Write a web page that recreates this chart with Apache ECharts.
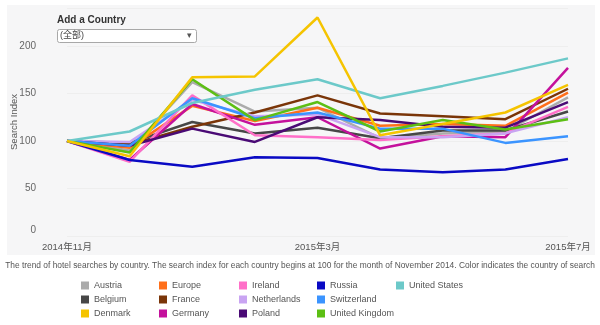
<!DOCTYPE html>
<html><head><meta charset="utf-8">
<script src="https://cdn.jsdelivr.net/npm/echarts@6/dist/echarts.min.js"></script>
<style>html,body{margin:0;padding:0;background:#fff}#c{width:600px;height:325px}</style>
</head><body><div id="c"></div>
<script>
var months = ['2014年11月','2014年12月','2015年1月','2015年2月','2015年3月','2015年4月','2015年5月','2015年6月','2015年7月'];
var yTicks = [0, 50, 100, 150, 200];
var countries = ['Austria','Belgium','Denmark','Europe','France','Germany','Ireland','Netherlands','Poland','Russia','Switzerland','United Kingdom','United States'];
var colors = ['#ababab','#474747','#f5c400','#ff6f1a','#7a3508','#c4119c','#ff6fc8','#c9a4f2','#4a0a75','#0a0ac4','#3b94ff','#5cbf14','#6cc9c9'];
var austria      = [100, 90, 162, 131, 135, 103, 108, 110, 146];
var belgium      = [100, 98, 120, 108, 114, 103, 111, 111, 131];
var denmark      = [100, 84, 167, 168, 230, 106, 118, 130, 159];
var europe       = [100, 93, 137, 121, 135, 116, 118, 116, 151];
var france       = [100, 96, 115, 130, 148, 129, 126, 123, 155];
var germany      = [100, 80, 139, 117, 125, 92, 105, 104, 177];
var ireland      = [100, 78, 148, 106, 104, 101, 105, 108, 136];
var netherlands  = [100, 99, 143, 126, 128, 104, 104, 108, 125];
var poland       = [100, 95, 113, 99, 125, 122, 115, 114, 141];
var russia       = [100, 80, 73, 83, 82, 70, 67, 70, 81];
var switzerland  = [100, 95, 145, 124, 130, 113, 113, 98, 105];
var unitedKingdom= [100, 88, 165, 122, 141, 110, 122, 112, 123];
var unitedStates = [100, 110, 140, 154, 165, 145, 158, 172, 187];
var seriesValues = [austria, belgium, denmark, europe, france, germany, ireland, netherlands, poland, russia, switzerland, unitedKingdom, unitedStates];
var caption = 'The trend of hotel searches by country. The search index for each country begins at 100 for the month of November 2014. Color indicates the country of search';

var font = '"Liberation Sans", Arial, "Noto Sans CJK SC", sans-serif';
var chart = echarts.init(document.getElementById('c'));
var series = countries.map(function (name, i) {
  return {
    name: name, type: 'line', data: seriesValues[i], symbol: 'none',
    lineStyle: { width: 2.5, color: colors[i] }, itemStyle: { color: colors[i] },
    z: name === 'Denmark' ? 5 : 3, clip: false, silent: true
  };
});
var legendCols = [[0,1,2],[3,4,5],[6,7,8],[9,10,11],[12]];
var legendX = [81, 159, 239, 317, 396];
var legends = legendCols.map(function (col, k) {
  return {
    orient: 'vertical', left: legendX[k], top: 280, height: 45, padding: 0,
    itemWidth: 8, itemHeight: 8, itemGap: 3,
    icon: 'rect', selectedMode: false,
    textStyle: { fontFamily: font, fontSize: 9, color: '#555', lineHeight: 11 },
    data: col.map(function (i) { return countries[i]; })
  };
});
chart.setOption({
  animation: false,
  grid: { left: 67, right: 32, top: 8, bottom: 89, outerBoundsMode: 'none', containLabel: false },
  legend: legends,
  xAxis: {
    type: 'category', data: months, boundaryGap: false,
    axisLine: { show: false }, axisTick: { show: false },
    axisLabel: { interval: 3, color: '#555', fontFamily: font, fontSize: 9.5, margin: 7 },
    splitLine: { show: false }
  },
  yAxis: {
    type: 'value', min: 0, max: 240, interval: 50,
    name: 'Search Index', nameLocation: 'middle', nameGap: 48, nameRotate: 90, nameMoveOverlap: false,
    nameTextStyle: { color: '#555', fontFamily: font, fontSize: 9.5 },
    axisLine: { show: false }, axisTick: { show: false },
    axisLabel: {
      color: '#666', fontFamily: font, fontSize: 10, margin: 31, showMaxLabel: false,
      formatter: function (v) { return yTicks.indexOf(v) >= 0 ? (v === 0 ? '{z|0}' : String(v)) : ''; },
      rich: { z: { color: '#666', fontFamily: font, fontSize: 10, padding: [0, 0, 12, 0] } }
    },
    splitLine: { show: true, lineStyle: { color: '#eeeeee', width: 1 } }
  },
  graphic: [
    { type: 'rect', z: -10, shape: { x: 7, y: 5, width: 588, height: 250 }, style: { fill: '#f6f6f7' }, silent: true },
    { type: 'text', left: 57, top: 15, style: { text: 'Add a Country', font: 'bold 10px ' + font, fill: '#333' } },
    { type: 'rect', shape: { x: 57.5, y: 29.5, width: 139, height: 13, r: 2 }, style: { fill: '#fff', stroke: '#a8a8a8', lineWidth: 1 } },
    { type: 'text', left: 60, top: 31, style: { text: '(全部)', font: '9px ' + font, fill: '#444' } },
    { type: 'text', left: 187, top: 31, style: { text: '▾', font: '9px ' + font, fill: '#555' } },
    { type: 'text', left: 'center', top: 261, style: { text: caption, font: '8.4px ' + font, fill: '#555' } }
  ],
  series: series
});
</script></body></html>
